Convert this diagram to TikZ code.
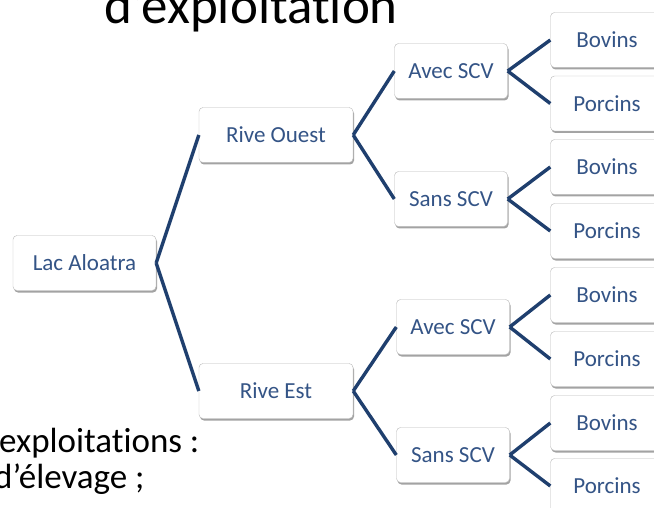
\documentclass[tikz,border=0pt]{standalone}
\usepackage{fontspec}
\setmainfont[Ligatures={TeX,NoCommon}]{Carlito}
\usepackage{tikz}
\usetikzlibrary{shadows}
\definecolor{boxtext}{RGB}{52,84,134}
\definecolor{branch}{RGB}{31,63,110}
\tikzstyle{cat} = [rectangle, rounded corners=4pt, minimum height=55pt, text centered, draw=gray!55, fill=white, text=boxtext, font=\fontsize{23}{27}\selectfont, drop shadow={shadow xshift=1pt, shadow yshift=-2pt, fill=gray!90, opacity=0.8}]
\tikzstyle{rootbox} = [cat, minimum width=143pt]
\tikzstyle{rive} = [cat, minimum width=154pt]
\tikzstyle{scv} = [cat, minimum width=113pt]
\tikzstyle{animal} = [cat, minimum width=113pt]
\tikzstyle{link} = [line width=3.4pt, draw=branch]
\tikzstyle{slide} = [inner sep=0pt, anchor=base west, text=black]

\begin{document}
\begin{tikzpicture}[x=1pt, y=-1pt]
\useasboundingbox (0,0) rectangle (654,508);
% slide text, cut by the frame
\node (titre) [slide, font=\fontsize{53}{60}\selectfont] at (104,24) {d'exploitation};
\node (ligneA) [slide, font=\fontsize{35}{40}\selectfont] at (-1,452) {exploitations :};
\node (ligneB) [slide, font=\fontsize{35}{40}\selectfont] at (-6,488) {d'élevage ;};
% tree
\node (lac) [rootbox] at (84.5,263) {Lac Aloatra};
\node (ouest) [rive] at (276,135) {Rive Ouest};
\node (est) [rive] at (276,391) {Rive Est};
\node (avecO) [scv] at (451,71) {Avec SCV};
\node (sansO) [scv] at (451,199) {Sans SCV};
\node (avecE) [scv] at (453,327) {Avec SCV};
\node (sansE) [scv] at (453,455) {Sans SCV};
\node (bovA) [animal] at (607,40) {Bovins};
\node (porA) [animal] at (607,103.5) {Porcins};
\node (bovB) [animal] at (607,167) {Bovins};
\node (porB) [animal] at (607,231) {Porcins};
\node (bovC) [animal] at (607,295) {Bovins};
\node (porC) [animal] at (607,359) {Porcins};
\node (bovD) [animal] at (607,423) {Bovins};
\node (porD) [animal] at (607,486) {Porcins};
\draw [link] (lac.east) -- (ouest.west);
\draw [link] (lac.east) -- (est.west);
\draw [link] (ouest.east) -- (avecO.west);
\draw [link] (ouest.east) -- (sansO.west);
\draw [link] (est.east) -- (avecE.west);
\draw [link] (est.east) -- (sansE.west);
\draw [link] (avecO.east) -- (bovA.west);
\draw [link] (avecO.east) -- (porA.west);
\draw [link] (sansO.east) -- (bovB.west);
\draw [link] (sansO.east) -- (porB.west);
\draw [link] (avecE.east) -- (bovC.west);
\draw [link] (avecE.east) -- (porC.west);
\draw [link] (sansE.east) -- (bovD.west);
\draw [link] (sansE.east) -- (porD.west);
\end{tikzpicture}
\end{document}
